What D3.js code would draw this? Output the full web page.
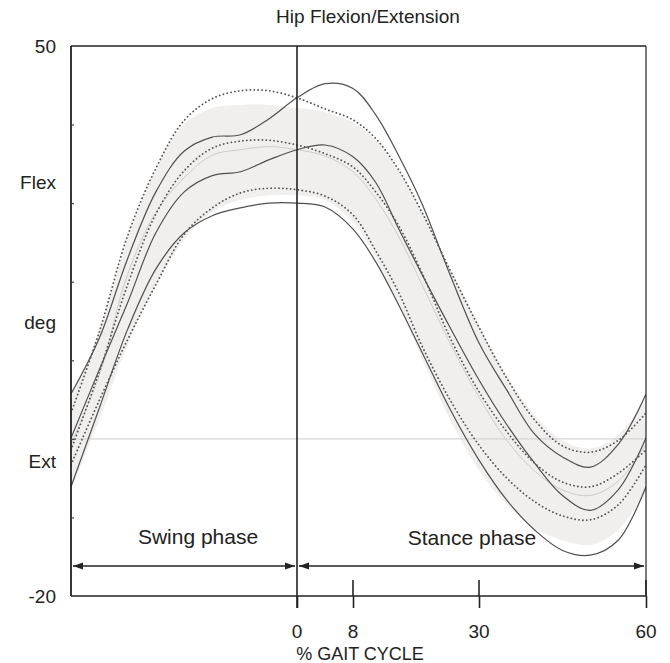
<!DOCTYPE html>
<html>
<head>
<meta charset="utf-8">
<script src="https://cdn.jsdelivr.net/npm/d3@7"></script>
<style>
  html, body { margin: 0; padding: 0; background: #fff; }
  text { font-family: "Liberation Sans", Arial, sans-serif; fill: #222; }
</style>
</head>
<body>
<svg id="chart" width="670" height="663"></svg>
<script>
// ---- data (% gait cycle; swing phase shown as -40..0, stance 0..60) ----
const gaitX = [-40,-35,-30,-25,-20,-15,-10,-5,0,4,8,12,16,20,25,30,35,40,45,50,55,60];

const normalUpper = [5.2,13.9,25.3,34.2,40.0,42.1,42.5,42.5,42.1,41.6,40.3,38.0,34.2,29.1,21.7,14.5,8.1,3.0,-0.2,-1.2,0.5,5.2];
const normalLower = [-6.5,2.4,11.9,19.6,25.3,28.9,30.4,31.0,31.0,30.4,27.6,23.0,17.0,10.3,2.4,-4.0,-8.4,-11.4,-12.9,-13.5,-11.6,-6.5];
const normalMean  = [-0.7,8.1,20.9,28.8,33.2,36.1,36.8,37.2,36.8,36.0,34.0,30.5,25.7,19.7,12.1,5.3,-0.2,-4.1,-6.5,-7.2,-5.4,-0.7];

const solidUpper  = [5.7,12.8,22.9,31.4,36.6,38.4,38.7,40.7,43.4,45.2,44.6,41.2,36.0,30.0,20.8,12.2,6.2,0.6,-2.3,-3.6,-0.7,5.7];
const solidMiddle = [0.1,8.8,17.3,26.2,31.4,33.5,34.0,35.5,36.8,37.4,35.9,32.6,26.7,21.0,14.1,7.5,1.8,-3.1,-7.2,-9.1,-6.5,0.1];
const solidLower  = [-6.1,3.9,13.9,21.6,26.2,28.4,29.4,30.0,30.0,29.5,26.7,22.5,17.0,11.1,3.7,-2.7,-7.8,-11.6,-14.2,-14.8,-12.9,-6.1];

const dottedUpper  = [3.3,13.6,25.8,34.4,40.5,43.3,44.3,44.3,43.4,42.0,40.6,38.2,34.2,28.9,21.4,14.2,7.7,2.4,-0.9,-1.7,-0.2,3.3];
const dottedMiddle = [-1.4,8.5,19.6,28.6,34.1,37.0,37.9,38.0,37.4,36.3,34.6,31.4,27.1,21.2,12.8,6.0,0.9,-3.1,-5.5,-6.1,-4.4,-1.4];
const dottedLower  = [-3.3,4.9,12.6,19.6,26.0,29.4,31.3,31.9,31.7,30.9,28.5,23.9,18.6,11.9,4.9,-0.8,-5.0,-8.0,-9.8,-10.3,-8.4,-3.3];

const xTickValues = [0, 8, 30, 60];
const xTickLabels = ["0", "8", "30", "60"];
const yMinorTicks = [40, 30, 20, 10, 0, -10];
const yLabelValues = [50, 32.6, 14.8, -2.9, -20];
const yLabelTexts  = ["50", "Flex", "deg", "Ext", "-20"];
const phaseLabels = [
  { text: "Swing phase",  from: -40, to: 0 },
  { text: "Stance phase", from: 0,   to: 60 }
];
const titleText = "Hip Flexion/Extension";
const xAxisTitle = "% GAIT CYCLE";

// ---- layout ----
const svg = d3.select("#chart");
const pL = 71, pR = 646, pT = 46, pB = 596;

const x = d3.scaleLinear().domain([-40, 0, 8, 30, 60]).range([pL, 297, 353, 479, pR]);
const y = d3.scaleLinear().domain([-20, 50]).range([pB, pT]);

const defs = svg.append("defs");
defs.append("clipPath").attr("id", "plotClip")
  .append("rect").attr("x", pL).attr("y", pT).attr("width", pR - pL).attr("height", pB - pT);
defs.append("marker").attr("id", "arrowEnd").attr("viewBox", "0 0 10 10")
  .attr("refX", 10).attr("refY", 5).attr("markerWidth", 10).attr("markerHeight", 10)
  .attr("markerUnits", "userSpaceOnUse").attr("orient", "auto")
  .append("path").attr("d", "M0,1.5 L10,5 L0,8.5 Z").attr("fill", "#222");
defs.append("marker").attr("id", "arrowStart").attr("viewBox", "0 0 10 10")
  .attr("refX", 0).attr("refY", 5).attr("markerWidth", 10).attr("markerHeight", 10)
  .attr("markerUnits", "userSpaceOnUse").attr("orient", "auto")
  .append("path").attr("d", "M10,1.5 L0,5 L10,8.5 Z").attr("fill", "#222");

const plot = svg.append("g").attr("clip-path", "url(#plotClip)");

// normal band
const bandData = gaitX.map((g, i) => ({ g, lo: normalLower[i], hi: normalUpper[i] }));
plot.append("path")
  .datum(bandData)
  .attr("fill", "#f1efee")
  .attr("d", d3.area().x(d => x(d.g)).y0(d => y(d.lo)).y1(d => y(d.hi)).curve(d3.curveCatmullRom.alpha(0.5)));

// zero gridline
plot.append("line").attr("x1", pL).attr("x2", pR).attr("y1", y(0)).attr("y2", y(0))
  .attr("stroke", "#d6d6d6").attr("stroke-width", 1.2);

const line = d3.line().x(d => x(d.g)).y(d => y(d.v)).curve(d3.curveCatmullRom.alpha(0.5));
const toPts = arr => gaitX.map((g, i) => ({ g, v: arr[i] }));

// mean normal line
plot.append("path").datum(toPts(normalMean))
  .attr("fill", "none").attr("stroke", "#cfcbc9").attr("stroke-width", 1).attr("d", line);

// solid lines
[solidUpper, solidMiddle, solidLower].forEach(s => {
  plot.append("path").datum(toPts(s))
    .attr("fill", "none").attr("stroke", "#505050").attr("stroke-width", 1.2).attr("d", line);
});
// dotted lines
[dottedUpper, dottedMiddle, dottedLower].forEach(s => {
  plot.append("path").datum(toPts(s))
    .attr("fill", "none").attr("stroke", "#555").attr("stroke-width", 1.8)
    .attr("stroke-linecap", "round").attr("stroke-dasharray", "0.1,3.8").attr("d", line);
});

// frame
const frame = svg.append("g").attr("stroke", "#222").attr("fill", "none");
frame.append("line").attr("x1", pL).attr("x2", pR).attr("y1", pT).attr("y2", pT).attr("stroke-width", 1.6);
frame.append("line").attr("x1", pL).attr("x2", pL).attr("y1", pT).attr("y2", pB).attr("stroke-width", 1.8);
frame.append("line").attr("x1", pR).attr("x2", pR).attr("y1", pT).attr("y2", pB).attr("stroke-width", 1.2);

// y minor ticks (inside) via axis
const yAxis = d3.axisRight(y).tickValues(yMinorTicks).tickSize(3).tickFormat("");
const yG = svg.append("g").attr("transform", `translate(${pL},0)`).call(yAxis);
yG.select(".domain").remove();
yG.selectAll(".tick line").attr("stroke", "#444").attr("stroke-width", 1.2);

// y labels
svg.append("g").selectAll("text").data(yLabelValues).join("text")
  .attr("x", 56).attr("y", d => y(d)).attr("dy", "0.35em")
  .attr("text-anchor", "end").attr("font-size", 19)
  .text((d, i) => yLabelTexts[i]);

// x axis: line + ticks crossing it
const xAxis = d3.axisBottom(x).tickValues(xTickValues).tickSize(12).tickFormat("");
const xG = svg.append("g").attr("transform", `translate(0,${pB})`).call(xAxis);
xG.select(".domain").remove();
xG.selectAll(".tick line").attr("stroke", "#222").attr("stroke-width", 1.6);
svg.append("line").attr("x1", pL).attr("x2", pR).attr("y1", pB).attr("y2", pB)
  .attr("stroke", "#222").attr("stroke-width", 1.6);
svg.append("g").selectAll("line").data(xTickValues.filter(v => v !== 0)).join("line")
  .attr("x1", d => x(d)).attr("x2", d => x(d)).attr("y1", pB - 16).attr("y2", pB)
  .attr("stroke", "#222").attr("stroke-width", 1.6);
// phase divider at 0
svg.append("line").attr("x1", x(0)).attr("x2", x(0)).attr("y1", pT).attr("y2", pB + 12)
  .attr("stroke", "#222").attr("stroke-width", 1.6);

svg.append("g").selectAll("text").data(xTickValues).join("text")
  .attr("x", d => x(d)).attr("y", 638)
  .attr("text-anchor", "middle").attr("font-size", 19)
  .text((d, i) => xTickLabels[i]);

svg.append("text").attr("x", 360).attr("y", 660).attr("text-anchor", "middle")
  .attr("font-size", 18).text(xAxisTitle);

svg.append("text").attr("x", 368).attr("y", 23).attr("text-anchor", "middle")
  .attr("font-size", 19).text(titleText);

// phase arrows and labels
const arrowY = 566;
phaseLabels.forEach(p => {
  svg.append("line")
    .attr("x1", x(p.from) + 2).attr("x2", x(p.to) - 2)
    .attr("y1", arrowY).attr("y2", arrowY)
    .attr("stroke", "#222").attr("stroke-width", 1.4)
    .attr("marker-start", "url(#arrowStart)").attr("marker-end", "url(#arrowEnd)");
});
svg.append("text").attr("x", 198).attr("y", 544).attr("text-anchor", "middle")
  .attr("font-size", 21).text(phaseLabels[0].text);
svg.append("text").attr("x", 472).attr("y", 545).attr("text-anchor", "middle")
  .attr("font-size", 21).text(phaseLabels[1].text);
</script>
</body>
</html>
